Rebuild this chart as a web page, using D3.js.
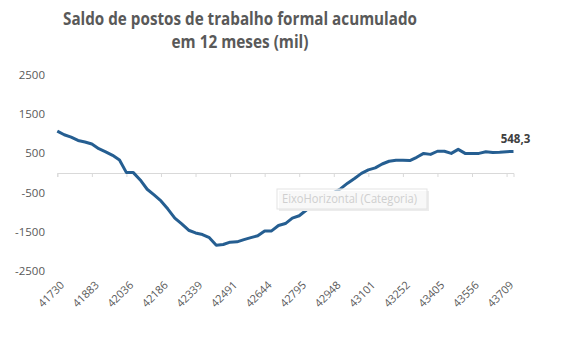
<!DOCTYPE html>
<html><head><meta charset="utf-8">
<script src="https://cdn.jsdelivr.net/npm/d3@7"></script>
<style>body{margin:0;background:#fff}svg{display:block}</style>
</head><body>
<svg id="c" width="588" height="357"></svg>
<script>
const titleLines = ["Saldo de postos de trabalho formal acumulado", "em 12 meses (mil)"];
// monthly date serials, Apr 2014 .. Oct 2019 (index 0..66)
const startSerial = 41730;
const values = [1069, 975, 915, 830, 790, 740, 620, 540, 450, 331,
  10, 10, -178, -415, -560, -713, -920, -1150, -1300, -1460,
  -1530, -1570, -1650, -1841, -1825, -1764, -1756, -1700, -1650, -1600,
  -1477, -1477, -1340, -1290, -1150, -1090, -950, -830, -720, -580,
  -500, -400, -260, -140, -10, 80, 130, 230, 300, 325,
  325, 318, 400, 500, 475, 555, 555, 500, 603, 500,
  500, 500, 540, 525, 530, 545, 548.3];
const tickLabels = ["41730","41883","42036","42186","42339","42491","42644","42795","42948","43101","43252","43405","43556","43709"];
const tickIndex = [0,5,10,15,20,25,30,35,40,45,50,55,60,65];
const yTicks = [2500, 1500, 500, -500, -1500, -2500];
const lastLabel = "548,3";
const hoverText = "EixoHorizontal (Categoria)";

const svg = d3.select("#c");
const x = d3.scaleLinear().domain([0, values.length - 1]).range([57.3, 513.5]);
const y = d3.scaleLinear().domain([-2500, 2500]).range([271, 75]);
const font = "'Open Sans', 'Liberation Sans', sans-serif";

// title
svg.append("text").attr("x", 240).attr("y", 25).attr("text-anchor", "middle")
  .attr("font-family", font).attr("font-weight", "bold").attr("font-size", 18.5)
  .attr("fill", "#595959").attr("textLength", 354).attr("lengthAdjust", "spacingAndGlyphs")
  .text(titleLines[0]);
svg.append("text").attr("x", 240).attr("y", 48).attr("text-anchor", "middle")
  .attr("font-family", font).attr("font-weight", "bold").attr("font-size", 18.5)
  .attr("fill", "#595959").attr("textLength", 137).attr("lengthAdjust", "spacingAndGlyphs")
  .text(titleLines[1]);

// y labels
svg.append("g").selectAll("text").data(yTicks).join("text")
  .attr("x", 45).attr("y", d => y(d)).attr("dy", "0.35em").attr("text-anchor", "end")
  .attr("font-family", font).attr("font-size", 11.5).attr("fill", "#595959")
  .text(d => d);

// x axis line at 0
const xAxis = d3.axisBottom(x).tickValues(tickIndex).tickSize(4).tickFormat("");
const gx = svg.append("g").attr("transform", `translate(0,${y(0)})`).call(xAxis);
gx.select(".domain").attr("stroke", "#d9d9d9").attr("stroke-width", 1);
gx.selectAll(".tick line").attr("stroke", "#d9d9d9");

// x labels at bottom
svg.append("g").selectAll("text").data(tickIndex).join("text")
  .attr("transform", d => `translate(${x(d) + 5},${283}) rotate(-45)`)
  .attr("text-anchor", "end").attr("dy", "0.35em")
  .attr("font-family", font).attr("font-size", 11).attr("fill", "#595959")
  .text((d, i) => tickLabels[i]);

// line
const line = d3.line().x((d, i) => x(i)).y(d => y(d));
svg.append("path").datum(values).attr("d", line)
  .attr("fill", "none").attr("stroke", "#255e91").attr("stroke-width", 3)
  .attr("stroke-linejoin", "round");

// last label
svg.append("text").attr("x", x(values.length - 1) + 2).attr("y", 143).attr("text-anchor", "middle")
  .attr("font-family", font).attr("font-weight", "bold").attr("font-size", 11.5).attr("fill", "#404040")
  .text(lastLabel);

// hover tooltip box
const tb = svg.append("g");
tb.append("rect").attr("x", 279).attr("y", 191).attr("width", 150).attr("height", 20).attr("fill", "#ececec");
tb.append("rect").attr("x", 277).attr("y", 189).attr("width", 150).attr("height", 20)
  .attr("fill", "#fff").attr("fill-opacity", 0.65).attr("stroke", "#e3e3e3");
tb.append("text").attr("x", 282).attr("y", 203).attr("font-family", font).attr("font-size", 12)
  .attr("fill", "#cfcfcf").attr("textLength", 135).attr("lengthAdjust", "spacingAndGlyphs").text(hoverText);
</script>
</body></html>
